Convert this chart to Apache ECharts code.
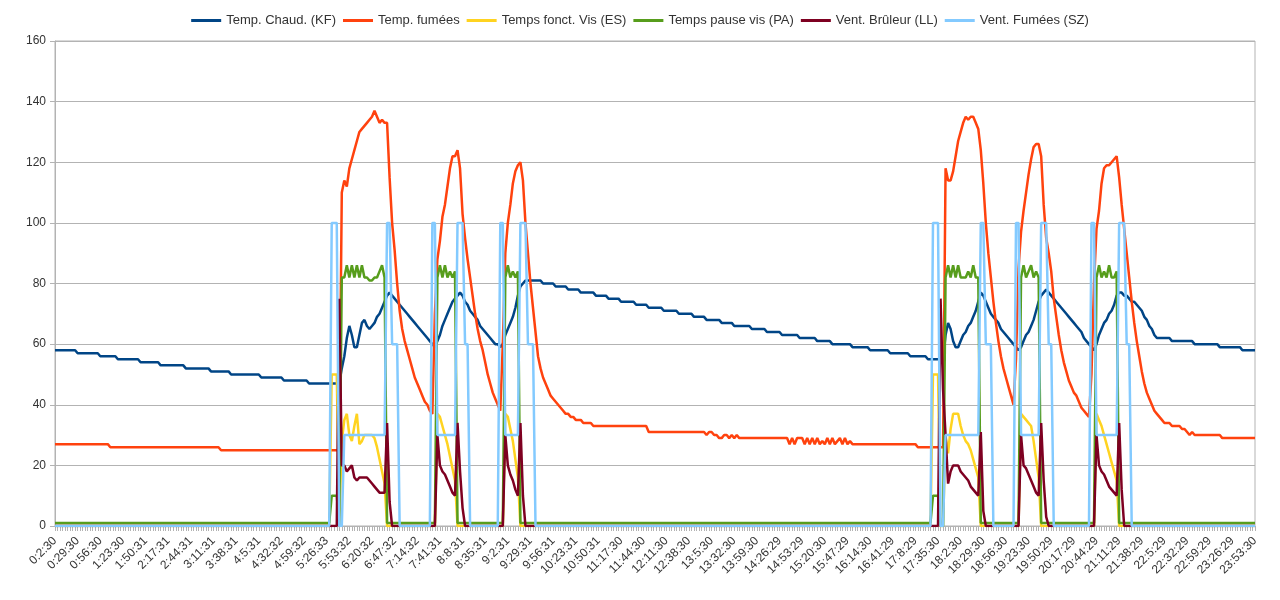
<!DOCTYPE html>
<html>
<head>
<meta charset="utf-8">
<title>Chaudière</title>
<script src="https://cdn.jsdelivr.net/npm/echarts@6/dist/echarts.min.js"></script>
<style>
  html, body { margin: 0; padding: 0; background: #fff; }
  #chart { width: 1280px; height: 600px; }
</style>
</head>
<body>
<div id="chart"></div>
<script>
// tick labels, one every 9 samples (samples every 3 min)
const tickLabels = ['0:2:30', '0:29:30', '0:56:30', '1:23:30', '1:50:31', '2:17:31', '2:44:31', '3:11:31', '3:38:31',
  '4:5:31', '4:32:32', '4:59:32', '5:26:33', '5:53:32', '6:20:32', '6:47:32', '7:14:32', '7:41:31', '8:8:31',
  '8:35:31', '9:2:31', '9:29:31', '9:56:31', '10:23:31', '10:50:31', '11:17:30', '11:44:30', '12:11:30',
  '12:38:30', '13:5:30', '13:32:30', '13:59:30', '14:26:29', '14:53:29', '15:20:30', '15:47:29', '16:14:30',
  '16:41:29', '17:8:29', '17:35:30', '18:2:30', '18:29:30', '18:56:30', '19:23:30', '19:50:29', '20:17:29',
  '20:44:29', '21:11:29', '21:38:29', '22:5:29', '22:32:29', '22:59:29', '23:26:29', '23:53:30']

const seriesNames = ['Temp. Chaud. (KF)', 'Temp. fumées', 'Temps fonct. Vis (ES)', 'Temps pause vis (PA)',
  'Vent. Brûleur (LL)', 'Vent. Fumées (SZ)']

// values; [value, count] = value repeated count times
const tempChaud = [[58, 9], [57, 9], [56, 7], [55, 9], [54, 8], [53, 10], [52, 10], [51, 8], [50, 12], [49, 9], [48, 10], [47, 13],
  52, 56, 62, 66, 63, 59, 59, 63, 67, 68, 66, 65, 66, 67, 69, 70, 72, 74, 76, 77,
  76, 75, 74, 73, 72, 71, 70, 69, 68, 67, 66, 65, 64, 63, 62, 61, 60,
  59, 61, 63, 66, 68, 70, 72, 74, 75, 76, 77, 76, 74, 73, 71, 70, 69, 68, 66, 65, 64, 63, 62, 61, 60, 60, 59, 60, 63, 65, 67, 69, 72, 76, 79, 80,
  [81, 7], [80, 5], [79, 5], [78, 5], [77, 6], [76, 5], [75, 5], [74, 6], [73, 5], [72, 6], [71, 6], [70, 6], [69, 5], [68, 6],
  [67, 5], [66, 7], [65, 6], [64, 6], [63, 7], [62, 7], [61, 6], [60, 8], [59, 7], [58, 8], [57, 8], [56, 7], [55, 7],
  63, 67, 65, 61, 59, 59, 61, 63, 64, 66, 67, 69, 71, 74, 77, 76, 74, 72, 70, 69, 68, 67, 65, 64, 63, 62, 61, 60, 59, 58, 59, 61, 63, 64, 66, 68,
  71, 74, 76, 77, 78, 77, 76, 75, 74, 73, 72, 71, 70, 69, 68, 67, 66, 65, 64, 62, 61, 60, 59, 58,
  60, 63, 65, 67, 68, 70, 71, 73, 76, 77, 77, 76, 76, 75, 74, 74, 73, 72, 71, 69, 68, 66, 65, 63,
  [62, 6], [61, 9], [60, 10], [59, 9], [58, 6]]

const tempFumees = [[27, 22], [26, 44], [25, 48],
  110, 114, 112, 118, 121, 124, 127, 130, 131, 132, 133, 134, 135, 137, 135, 133, 134, 133, 133, 115,
  100, 91, 80, 71, 65, 61, 58, 55, 52, 49, 47, 45, 43, 41, 40, 38, 37,
  70, 88, 94, 102, 106, 112, 118, 122, 122, 124, 118, 103, 95, 88, 82, 76, 70, 65, 61, 58, 54, 50, 47, 44, 42, 40, 38,
  60, 90, 100, 106, 113, 117, 119, 120, 114, 100, 90, 80, 72, 64, 56, 52, 49, 47, 45, 43, 42, 41, 40, 39, 38, 37, 37, 36, 36, 35, 35, 35, 34, 34, 34, 34,
  [33, 22], [31, 23],
  30, 31, 31, 30, 30, 29, 29, 30, 30, 29, 30, 29, 30, 29, 29, 29, 29, 29,
  [29, 15],
  27, 29, 27, 29, 29, 29, 27, 29, 27, 29, 27, 29, 27, 28, 27, 29, 27, 29, 27, 28, 29, 27, 29, 27, 28, 27, 27, 27, 27,
  [27, 22], [26, 11],
  118, 114, 114, 117, 122, 127, 130, 133, 135, 134, 135, 135, 133, 131, 124, 113, 100, 90, 82, 74,
  67, 61, 56, 52, 49, 46, 43, 40, 55, 85, 97, 104, 110, 116, 121, 125, 126, 126, 122, 106,
  95, 90, 84, 75, 69, 63, 58, 54, 51, 48, 46, 44, 43, 41, 39, 38, 37, 36,
  50, 80, 98, 104, 113, 118, 119, 119, 120, 121, 122,
  115, 106, 98, 90, 82, 74, 67, 61, 56, 51, 47, 44, 42, 40, 38, 37, 36, 35, 34, 34, 34, 33, 33, 33, 33, 32, 32, 31, 30, 31,
  [30, 11], [29, 14]]

const tempsFonctVis = [[0, 110], 50, 50, 50, 0,
  28, 35, 37, 30, 28, 33, 37, 27, 28, 30, 30, 30, 30, 29, 26, 22, 18, 14,
  [0, 20], 37, 36, 33, 30, 27, 23, 19, 15,
  [0, 19], 37, 36, 32, 28, 22, 16,
  [0, 164], 50, 50, 50, 0, 0,
  30, 24, 32, 37, 37, 37, 33, 30, 28, 27, 25, 22, 19, 16,
  [0, 16], 37, 36, 35, 34, 33, 28, 22, 16,
  [0, 22], 37, 35, 33, 30, 27, 24, 21, 18, 15,
  [0, 55]]

const tempsPauseVis = [[1, 110], 10, 10, 10, 0,
  82, 82, 86, 82, 86, 82, 86, 82, 86, 82, 82, 81, 81, 82, 82, 84, 86, 82,
  [1, 20], 82, 86, 82, 86, 82, 84, 82, 84,
  [1, 19], 82, 86, 82, 84, 82, 84,
  [1, 164], 10, 10, 10, 0, 0,
  82, 86, 82, 86, 82, 86, 82, 82, 82, 84, 82, 86, 82, 82,
  [1, 16], 82, 86, 82, 84, 86, 82, 84, 82,
  [1, 22], 82, 86, 82, 84, 82, 86, 82, 82, 84,
  [1, 55]]

const ventBruleur = [[0, 113], 75,
  20, 20, 18, 19, 20, 16, 15, 16, 16, 16, 16, 15, 14, 13, 12, 11, 11, 11, 34, 8,
  [0, 18], 30, 20, 18, 17, 15, 13, 11, 10, 34, 18, 6,
  [0, 16], 30, 20, 17, 15, 12, 10, 34, 10,
  [0, 165], 75, 45,
  30, 14, 18, 20, 20, 20, 18, 17, 16, 15, 13, 12, 11, 10, 31, 5,
  [0, 14], 30, 20, 19, 17, 15, 13, 11, 10, 34, 15, 3,
  [0, 19], 30, 20, 18, 17, 15, 13, 12, 11, 10, 34, 12,
  [0, 53]]

const ventFumees = [[0, 110], [100, 3], [0, 2], [30, 17], [100, 2], [60, 3],
  [0, 13], [100, 2], [30, 8], [100, 3], [60, 2],
  [0, 12], [100, 2], [30, 6], [100, 3], [60, 3],
  [0, 158], [100, 3], [0, 2], [30, 14], [100, 2], [60, 3],
  [0, 9], [100, 2], [30, 8], [100, 3], [60, 2],
  [0, 15], [100, 2], [30, 9], [100, 3], [60, 2],
  [0, 50]]

const colors = ['#004586', '#ff420e', '#ffd320', '#579d1c', '#7e0021', '#83caff']

function expand(runs) {
  const out = []
  runs.forEach(r => {
    if (Array.isArray(r)) {
      for (let k = 0; k < r[1]; k++) out.push(r[0])
    } else {
      out.push(r)
    }
  })
  return out
}

// category names: tick label, then the 3-minute samples after it
function buildCategories(count) {
  const cats = []
  for (let i = 0; i < count; i++) {
    const base = tickLabels[Math.floor(i / 9)].split(':').map(Number)
    if (i % 9 === 0) {
      cats.push(tickLabels[i / 9])
      continue
    }
    let s = base[0] * 3600 + base[1] * 60 + base[2] + (i % 9) * 180
    const h = Math.floor(s / 3600)
    const m = Math.floor((s % 3600) / 60)
    cats.push(h + ':' + m + ':' + (s % 60))
  }
  return cats
}

const seriesData = [tempChaud, tempFumees, tempsFonctVis, tempsPauseVis, ventBruleur, ventFumees].map(expand)
const categories = buildCategories(seriesData[0].length)

const font = "'Liberation Sans', Arial, sans-serif"
const chart = echarts.init(document.getElementById('chart'))
chart.setOption({
  animation: false,
  color: colors,
  textStyle: { fontFamily: font },
  legend: {
    top: 9,
    left: 'center',
    icon: 'rect',
    itemWidth: 30,
    itemHeight: 3,
    itemGap: 7,
    textStyle: { fontSize: 13, color: '#333', fontFamily: font },
    data: seriesNames
  },
  grid: {
    left: 55,
    right: 25,
    top: 41,
    bottom: 74,
    show: true,
    borderColor: '#b3b3b3',
    borderWidth: 1
  },
  xAxis: {
    type: 'category',
    data: categories,
    boundaryGap: false,
    axisLine: { lineStyle: { color: '#b3b3b3' } },
    axisTick: { interval: 0, length: 5, lineStyle: { color: '#b3b3b3' } },
    axisLabel: { interval: 8, rotate: 45, fontSize: 12, color: '#333', fontFamily: font, margin: 13 },
    splitLine: { show: false }
  },
  yAxis: {
    type: 'value',
    min: 0,
    max: 160,
    interval: 20,
    axisLine: { show: true, lineStyle: { color: '#b3b3b3' } },
    axisTick: { show: true, length: 5, lineStyle: { color: '#b3b3b3' } },
    axisLabel: { fontSize: 12, color: '#333', fontFamily: font, margin: 9 },
    splitLine: { lineStyle: { color: '#b3b3b3' } }
  },
  series: seriesNames.map((name, k) => ({
    name: name,
    type: 'line',
    data: seriesData[k],
    showSymbol: false,
    symbol: 'none',
    lineStyle: { width: 2.5, color: colors[k] },
    itemStyle: { color: colors[k] }
  }))
})
</script>
</body>
</html>
